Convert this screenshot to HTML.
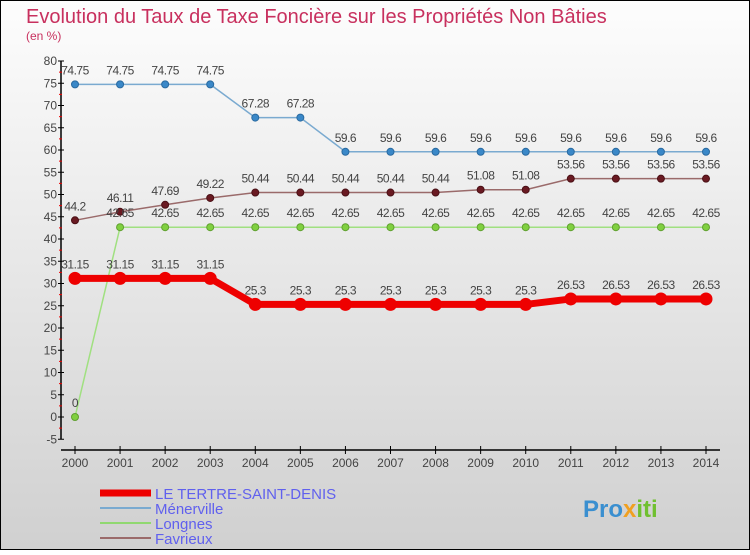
<!DOCTYPE html>
<html><head><meta charset="utf-8"><style>
html,body{margin:0;padding:0}
body{width:750px;height:550px;overflow:hidden;font-family:"Liberation Sans",sans-serif}
svg text{font-family:"Liberation Sans",sans-serif}
</style></head><body>
<svg width="750" height="550" xmlns="http://www.w3.org/2000/svg">
<defs><linearGradient id="bg" x1="0" y1="0" x2="0" y2="1"><stop offset="0" stop-color="#fdfdfd"/><stop offset="1" stop-color="#d0d0d0"/></linearGradient></defs>
<rect x="0.5" y="0.5" width="749" height="549" fill="url(#bg)" stroke="#000"/>
<text x="26" y="23" font-size="20" fill="#c8305e">Evolution du Taux de Taxe Foncière sur les Propriétés Non Bâties</text>
<text x="26" y="40" font-size="12" fill="#c8305e">(en %)</text>
<g id="axes"></g><g id="series"></g>
<g>
<line x1="100" y1="493" x2="151" y2="493" stroke="#ee0000" stroke-width="7"/>
<text x="155" y="499" font-size="15" fill="#6060ee">LE TERTRE-SAINT-DENIS</text>
<line x1="100" y1="508" x2="151" y2="508" stroke="#7aaad0" stroke-width="2"/>
<text x="155" y="514" font-size="15" fill="#6060ee">Ménerville</text>
<line x1="100" y1="523" x2="151" y2="523" stroke="#90d870" stroke-width="2"/>
<text x="155" y="529" font-size="15" fill="#6060ee">Longnes</text>
<line x1="100" y1="538" x2="151" y2="538" stroke="#9a6a6a" stroke-width="2"/>
<text x="155" y="544" font-size="15" fill="#6060ee">Favrieux</text>
</g>
<text x="583" y="517" font-size="24" font-weight="bold" fill="#3a8fd0">Pro<tspan fill="#f0a020">x</tspan><tspan fill="#70c030">iti</tspan></text>
</svg>
<script>
const years=[2000,2001,2002,2003,2004,2005,2006,2007,2008,2009,2010,2011,2012,2013,2014];
const yTicks=[-5,0,5,10,15,20,25,30,35,40,45,50,55,60,65,70,75,80];
const tertre=[31.15,31.15,31.15,31.15,25.3,25.3,25.3,25.3,25.3,25.3,25.3,26.53,26.53,26.53,26.53];
const menerville=[74.75,74.75,74.75,74.75,67.28,67.28,59.6,59.6,59.6,59.6,59.6,59.6,59.6,59.6,59.6];
const longnes=[0,42.65,42.65,42.65,42.65,42.65,42.65,42.65,42.65,42.65,42.65,42.65,42.65,42.65,42.65];
const favrieux=[44.2,46.11,47.69,49.22,50.44,50.44,50.44,50.44,50.44,51.08,51.08,53.56,53.56,53.56,53.56];
const NS="http://www.w3.org/2000/svg";
const X=i=>75+i*(706-75)/(years.length-1);
const Y=v=>417-v*(417-61)/80;
function mk(tag,attrs,parent){const e=document.createElementNS(NS,tag);for(const k in attrs)e.setAttribute(k,attrs[k]);parent.appendChild(e);return e;}
const ax=document.getElementById('axes');
let e=mk('line',{x1:61,y1:Y(80),x2:61,y2:Y(-5),stroke:'#000','stroke-width':1.5},ax);


e=mk('line',{x1:61,y1:450,x2:720,y2:450,stroke:'#000','stroke-width':1.5},ax);


yTicks.forEach(v=>{
 mk('line',{x1:58,y1:Y(v),x2:64,y2:Y(v),stroke:'#000'},ax);
 if(v<80){mk('line',{x1:59,y1:Y(v+2.5),x2:62,y2:Y(v+2.5),stroke:'#e00'},ax);}
 const t=mk('text',{x:57,y:Y(v)+4,'font-size':12,'text-anchor':'end',fill:'#444'},ax);t.textContent=v;
 
 
});
years.forEach((yr,i)=>{
 mk('line',{x1:X(i),y1:446,x2:X(i),y2:454,stroke:'#000'},ax);
 const t=mk('text',{x:X(i),y:467,'font-size':12,'text-anchor':'middle',fill:'#444'},ax);t.textContent=yr;
 
 
});
const sg=document.getElementById('series');
function series(data,name,color,w,dot,dotStroke,r){
 const g=mk('g',{},sg);
 
 
 mk('polyline',{points:data.map((v,i)=>X(i)+','+Y(v)).join(' '),fill:'none',stroke:color,'stroke-width':w},g);
 data.forEach((v,i)=>{
  const c=mk('circle',{cx:X(i),cy:Y(v),r:r,fill:dot,stroke:dotStroke},g);
  
  
  const t=mk('text',{x:X(i),y:Y(v)-10,'font-size':12,'text-anchor':'middle',fill:'#444','letter-spacing':'-0.5'},g);t.textContent=String(v);
  
  
 });
}
series(menerville,'menerville','#7aaad0',1.5,'#3a88c8','#2a6aa0',3.5);
series(favrieux,'favrieux','#9a6a6a',1.5,'#6a1a22','#4a1015',3.5);
series(longnes,'longnes','#a0e080',1.5,'#80d040','#60a030',3.5);
series(tertre,'tertre','#ee0000',7,'#ee0000','#ee0000',6);
</script>
</body></html>
